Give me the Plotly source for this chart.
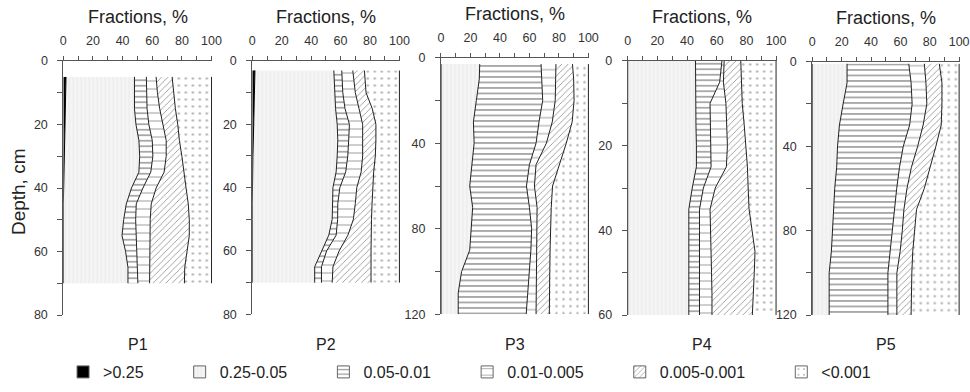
import plotly.graph_objects as go

# ---------------- data ----------------
fraction_names = [">0.25", "0.25-0.05", "0.05-0.01", "0.01-0.005", "0.005-0.001", "<0.001"]
panel_names = ["P1", "P2", "P3", "P4", "P5"]

# P1
p1_depth = [5, 10, 15, 20, 25, 30, 35, 40, 45, 50, 55, 60, 65, 70]
p1_f0 = [1.8, 1.6, 1.4, 1.1, 0.8, 0.4, 0.1, 0, 0, 0, 0, 0, 0, 0]
p1_f1 = [46.2, 46.4, 46.6, 47.9, 50.2, 51.1, 50.9, 46.0, 42.5, 40.7, 39.6, 42.0, 43.6, 43.6]
p1_f2 = [8.0, 8.0, 8.5, 8.7, 9.0, 8.9, 8.0, 7.7, 6.7, 8.1, 9.6, 7.7, 6.7, 6.7]
p1_f3 = [6.6, 7.5, 8.5, 9.3, 9.4, 9.0, 9.0, 8.9, 10.1, 9.8, 9.4, 8.5, 7.9, 7.9]
p1_f4 = [10.8, 10.8, 10.6, 10.2, 8.9, 10.6, 13.2, 20.2, 25.0, 26.4, 26.4, 25.0, 23.7, 23.5]
p1_f5 = [26.6, 25.7, 24.4, 22.8, 21.7, 20.0, 18.8, 17.2, 15.7, 15.0, 15.0, 16.8, 18.1, 18.3]

# P2
p2_depth = [3, 10, 15, 20, 25, 30, 35, 40, 45, 50, 55, 60, 65, 70]
p2_f0 = [1.8, 1.6, 1.3, 1.0, 0.7, 0.4, 0.1, 0, 0, 0, 0, 0, 0, 0]
p2_f1 = [53.6, 54.3, 55.3, 56.7, 57.4, 57.3, 56.9, 54.8, 54.3, 54.3, 52.0, 47.0, 42.4, 42.4]
p2_f2 = [5.4, 5.6, 6.4, 8.3, 7.4, 7.2, 6.5, 4.7, 3.8, 3.7, 5.0, 3.5, 4.6, 4.6]
p2_f3 = [7.5, 8.5, 9.5, 9.0, 9.5, 10.1, 10.5, 11.5, 11.9, 10.7, 8.0, 8.5, 7.8, 7.3]
p2_f4 = [7.9, 7.3, 9.0, 9.0, 9.0, 8.6, 8.5, 10.8, 11.4, 12.3, 15.7, 21.7, 25.9, 26.4]
p2_f5 = [23.8, 22.7, 18.5, 16.0, 16.0, 16.4, 17.5, 18.2, 18.6, 19.0, 19.3, 19.3, 19.3, 19.3]

# P3
p3_depth = [3, 10, 20, 30, 40, 50, 60, 70, 80, 90, 100, 110, 120]
p3_f0 = [0, 0, 0, 0, 0, 0, 0, 0, 0, 0, 0, 0, 0]
p3_f1 = [26.3, 26.0, 24.0, 22.0, 22.5, 21.0, 19.5, 21.5, 20.5, 19.5, 14.0, 11.7, 11.7]
p3_f2 = [41.6, 42.5, 45.0, 44.5, 42.0, 39.0, 38.5, 38.5, 41.0, 41.5, 46.0, 46.8, 46.1]
p3_f3 = [10.1, 9.5, 8.5, 9.0, 7.0, 4.5, 5.4, 5.2, 3.5, 3.8, 4.5, 6.0, 6.7]
p3_f4 = [11.2, 12.0, 12.8, 13.5, 13.5, 16.0, 12.3, 9.6, 9.2, 9.2, 9.3, 9.0, 9.0]
p3_f5 = [10.8, 10.0, 9.7, 11.0, 15.0, 19.5, 24.3, 25.2, 25.8, 26.0, 26.2, 26.5, 26.5]

# P4
p4_depth = [0, 5, 10, 15, 20, 25, 30, 35, 40, 45, 50, 55, 60]
p4_f0 = [0, 0, 0, 0, 0, 0, 0, 0, 0, 0, 0, 0, 0]
p4_f1 = [45.7, 45.7, 45.7, 46.0, 46.3, 46.3, 43.5, 41.2, 41.2, 41.2, 41.2, 41.2, 41.2]
p4_f2 = [17.8, 16.3, 9.8, 9.8, 9.7, 9.9, 7.5, 7.2, 7.2, 7.2, 7.2, 7.2, 7.2]
p4_f3 = [1.5, 2.5, 10.7, 11.0, 11.2, 10.3, 8.0, 7.1, 7.6, 7.9, 8.1, 8.4, 8.4]
p4_f4 = [11.2, 12.1, 11.0, 11.7, 12.4, 14.2, 22.2, 26.3, 27.8, 29.5, 28.8, 27.9, 27.2]
p4_f5 = [23.8, 23.4, 22.8, 21.5, 20.4, 19.3, 18.8, 18.2, 16.2, 14.2, 14.7, 15.3, 16.0]

# P5
p5_depth = [1, 10, 20, 30, 40, 50, 60, 70, 80, 90, 100, 110, 120]
p5_f0 = [0, 0, 0, 0, 0, 0, 0, 0, 0, 0, 0, 0, 0]
p5_f1 = [23.7, 23.7, 21.0, 18.5, 17.2, 16.6, 15.3, 14.5, 14.0, 13.0, 11.5, 11.5, 11.5]
p5_f2 = [42.0, 43.6, 47.0, 47.8, 44.8, 42.8, 42.2, 41.5, 40.6, 39.7, 40.0, 40.0, 40.0]
p5_f3 = [10.6, 10.1, 10.0, 9.2, 9.8, 8.1, 7.0, 6.4, 6.7, 7.1, 6.1, 6.1, 6.1]
p5_f4 = [10.2, 10.9, 10.3, 12.3, 12.4, 13.0, 11.8, 8.6, 8.2, 8.6, 10.2, 9.9, 9.7]
p5_f5 = [13.5, 11.7, 11.7, 12.2, 15.8, 19.5, 23.7, 29.0, 30.5, 31.6, 32.2, 32.5, 32.7]

x_tickvals = [0, 10, 20, 30, 40, 50, 60, 70, 80, 90, 100]
x_ticktext = ["0", "", "20", "", "40", "", "60", "", "80", "", "100"]

# ---------------- layout helpers ----------------
panels = [
    dict(depth=p1_depth, fr=[p1_f0, p1_f1, p1_f2, p1_f3, p1_f4, p1_f5], ymax=80, ydt=10, ylab=20,
         xd=[0.0653, 0.2190], yd=[0.1964, 0.8444]),
    dict(depth=p2_depth, fr=[p2_f0, p2_f1, p2_f2, p2_f3, p2_f4, p2_f5], ymax=80, ydt=10, ylab=20,
         xd=[0.2601, 0.4127], yd=[0.1982, 0.8444]),
    dict(depth=p3_depth, fr=[p3_f0, p3_f1, p3_f2, p3_f3, p3_f4, p3_f5], ymax=120, ydt=20, ylab=40,
         xd=[0.4546, 0.6075], yd=[0.1982, 0.8528]),
    dict(depth=p4_depth, fr=[p4_f0, p4_f1, p4_f2, p4_f3, p4_f4, p4_f5], ymax=60, ydt=10, ylab=20,
         xd=[0.6471, 0.8010], yd=[0.1964, 0.8444]),
    dict(depth=p5_depth, fr=[p5_f0, p5_f1, p5_f2, p5_f3, p5_f4, p5_f5], ymax=120, ydt=20, ylab=40,
         xd=[0.8374, 0.9897], yd=[0.1964, 0.8426]),
]

styles = [
    dict(fillcolor="#000000", pattern=None),
    dict(fillcolor="#f3f3f3", pattern=dict(shape="|", fgcolor="#e0e0e0", bgcolor="#f5f5f5", size=4, solidity=0.3)),
    dict(fillcolor="#ffffff", pattern=dict(shape="-", fgcolor="#1a1a1a", bgcolor="#ffffff", size=5.5, solidity=0.25)),
    dict(fillcolor="#ffffff", pattern=dict(shape="-", fgcolor="#333333", bgcolor="#ffffff", size=8, solidity=0.12)),
    dict(fillcolor="#ffffff", pattern=dict(shape="/", fgcolor="#333333", bgcolor="#ffffff", size=4.5, solidity=0.2)),
    dict(fillcolor="#ffffff", pattern=dict(shape=".", fgcolor="#666666", bgcolor="#ffffff", size=7, solidity=0.1)),
]

FONT = "Liberation Sans, Arial, sans-serif"
fig = go.Figure()

for pi, p in enumerate(panels):
    n = pi + 1
    xa = "x" if n == 1 else f"x{n}"
    ya = "y" if n == 1 else f"y{n}"
    cum = [0.0] * len(p["depth"])
    for k, f in enumerate(p["fr"]):
        cum = [c + v for c, v in zip(cum, f)]
        st = styles[k]
        kw = dict(
            x=list(cum), y=p["depth"], mode="lines", xaxis=xa, yaxis=ya,
            name=fraction_names[k], legendgroup=fraction_names[k], showlegend=False,
            fill="tozerox" if k == 0 else "tonextx",
            fillcolor=st["fillcolor"],
            line=dict(color="#000000" if k == 0 else "#222222", width=1),
            hoverinfo="skip",
        )
        if st["pattern"] is not None:
            kw["fillpattern"] = st["pattern"]
        fig.add_trace(go.Scatter(**kw))

# legend-only swatches (no data drawn); trailing no-break spaces widen the gap between entries
PAD = "\u00a0" * 7
for k, name in enumerate(fraction_names):
    st = styles[k]
    marker = dict(color=st["fillcolor"], line=dict(color="#666666", width=1))
    if st["pattern"] is not None:
        marker["pattern"] = dict(st["pattern"])
    label = name + (PAD if k < len(fraction_names) - 1 else "")
    fig.add_trace(go.Bar(x=[None], y=[None], name=label, legendgroup=name,
                         marker=marker, showlegend=True, xaxis="x", yaxis="y",
                         hoverinfo="skip"))

layout = dict(
    width=970, height=392, margin=dict(l=0, r=0, t=0, b=0, autoexpand=False),
    paper_bgcolor="white", plot_bgcolor="white",
    font=dict(family=FONT, color="#333333"),
    legend=dict(orientation="h", x=0.065, y=0.051, xanchor="left", yanchor="middle",
                font=dict(size=16, family=FONT, color="#222222"), itemwidth=30,
                bgcolor="rgba(0,0,0,0)", tracegroupgap=0),
    showlegend=True,
)
annotations = []
for pi, p in enumerate(panels):
    n = pi + 1
    xk = "xaxis" if n == 1 else f"xaxis{n}"
    yk = "yaxis" if n == 1 else f"yaxis{n}"
    ya = "y" if n == 1 else f"y{n}"
    xa = "x" if n == 1 else f"x{n}"
    yt = list(range(0, p["ymax"] + 1, p["ydt"]))
    ytt = [str(v) if v % p["ylab"] == 0 else "" for v in yt]
    layout[xk] = dict(domain=p["xd"], range=[0, 100.6], side="top", anchor=ya,
                      showline=True, linecolor="#555555", linewidth=1,
                      ticks="outside", ticklen=4, tickcolor="#555555",
                      tickvals=x_tickvals, ticktext=x_ticktext, ticklabelstandoff=6,
                      tickfont=dict(size=12.5, color="#333333"),
                      showgrid=False, zeroline=False, fixedrange=True)
    layout[yk] = dict(domain=p["yd"], range=[p["ymax"], 0], anchor=xa,
                      showline=True, linecolor="#555555", linewidth=1,
                      ticks="outside", ticklen=5, tickcolor="#555555",
                      tickvals=yt, ticktext=ytt, ticklabelstandoff=7,
                      tickfont=dict(size=12.5, color="#333333"),
                      showgrid=False, zeroline=False, fixedrange=True)
    annotations.append(dict(text="Fractions, %", xref=f"{xa} domain", yref="paper",
                            x=0.5, y=p["yd"][1] + 0.112, xanchor="center", yanchor="middle",
                            showarrow=False, font=dict(size=18, color="#222222")))
    annotations.append(dict(text=panel_names[pi], xref=f"{xa} domain", yref="paper",
                            x=0.5, y=0.12, xanchor="center", yanchor="middle",
                            showarrow=False, font=dict(size=16, color="#222222")))
annotations.append(dict(text="Depth, cm", xref="paper", yref="paper", x=18 / 970, y=0.51,
                        xanchor="center", yanchor="middle",
                        textangle=-90, showarrow=False, font=dict(size=19, color="#222222")))
layout["annotations"] = annotations
fig.update_layout(**layout)
fig.write_html("out.html")
